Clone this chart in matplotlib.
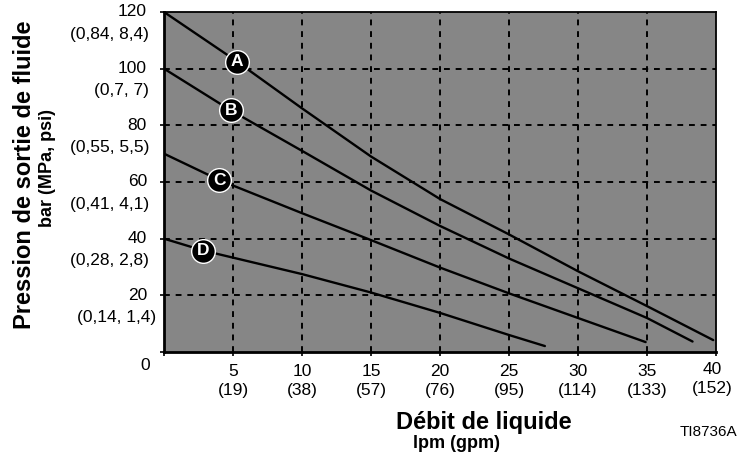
import matplotlib
matplotlib.use("Agg")
import matplotlib.pyplot as plt

plt.rcParams['font.family'] = ['Liberation Sans', 'DejaVu Sans']

# ---- data ----
x_ticks = [5, 10, 15, 20, 25, 30, 35, 40]
x_tick_labels = ["5", "10", "15", "20", "25", "30", "35", "40"]
x_tick_sub = ["(19)", "(38)", "(57)", "(76)", "(95)", "(114)", "(133)", "(152)"]
y_ticks = [20, 40, 60, 80, 100, 120]
y_tick_labels = ["20", "40", "60", "80", "100", "120"]
y_tick_sub = ["(0,14, 1,4)", "(0,28, 2,8)", "(0,41, 4,1)", "(0,55, 5,5)", "(0,7, 7)", "(0,84, 8,4)"]

curve_names = ["A", "B", "C", "D"]
a_x = [0, 5, 10, 15, 20, 25, 30, 35, 39.8]
a_y = [120, 103.5, 86, 69, 54, 41.5, 28.5, 16.2, 4.2]
b_x = [0, 4.8, 10, 15, 20, 25, 30, 35, 38.3]
b_y = [100, 85.4, 71, 57, 44.5, 33, 22.5, 12, 3.7]
c_x = [0, 4, 10, 15, 20, 25, 30, 34.9]
c_y = [70, 60.7, 49, 39.5, 29.8, 20.7, 12, 3.5]
d_x = [0, 2.85, 10, 15, 20, 25, 27.6]
d_y = [40, 35.8, 27.5, 21, 13.8, 6, 2.1]
curves_x = [a_x, b_x, c_x, d_x]
curves_y = [a_y, b_y, c_y, d_y]
marker_x = [5.3, 4.83, 4.0, 2.85]
marker_y = [102.4, 85.4, 60.7, 35.8]

# ---- figure ----
W, H = 747, 459
fig = plt.figure(figsize=(W / 100, H / 100), dpi=100)
L, R, T, B = 164, 716, 12, 352
ax = fig.add_axes([L / W, 1 - B / H, (R - L) / W, (B - T) / H])
ax.set_facecolor('#868686')
ax.set_xlim(0, 40)
ax.set_ylim(0, 120)

for xv in x_ticks[:-1]:
    ax.axvline(xv, color='black', lw=1.4, dashes=(3, 3), zorder=1)
for yv in y_ticks[:-1]:
    ax.axhline(yv, color='black', lw=1.4, dashes=(3, 3), zorder=1)

for cx, cy in zip(curves_x, curves_y):
    ax.plot(cx, cy, color='black', lw=1.7, zorder=3,
            solid_capstyle='round', solid_joinstyle='round')

ax.scatter(marker_x, marker_y, s=290, color='black', edgecolors='white',
           linewidths=1.0, zorder=4)
for name, mx, my in zip(curve_names, marker_x, marker_y):
    ax.text(mx, my, name, color='white', fontsize=12.5, fontweight='bold',
            ha='center', va='center', zorder=5)

for side in ['left', 'bottom']:
    ax.spines[side].set_linewidth(2.0)
for side in ['top', 'right']:
    ax.spines[side].set_linewidth(1.3)

ax.set_xticks([0] + x_ticks)
ax.set_yticks([0] + y_ticks)
ax.tick_params(length=3, width=1.2, direction='out', labelleft=False, labelbottom=False)

# y tick labels (two lines)
sub_dx = [-8, -15, -15, -15, -15, -15]
for yv, lab, sub, dx in zip(y_ticks, y_tick_labels, y_tick_sub, sub_dx):
    ax.annotate(lab, xy=(0, yv), xytext=(-17, 0), textcoords='offset pixels',
                ha='right', va='center', fontsize=12.5, annotation_clip=False)
    ax.annotate(sub, xy=(0, yv), xytext=(dx, -22), textcoords='offset pixels',
                ha='right', va='center', fontsize=12.5, annotation_clip=False)
ax.annotate("0", xy=(0, 0), xytext=(-19, -13), textcoords='offset pixels',
            ha='center', va='center', fontsize=12.5, annotation_clip=False)

# x tick labels (two lines)
for xv, lab, sub in zip(x_ticks, x_tick_labels, x_tick_sub):
    dx = -4 if xv == 40 else 0
    dy = 3 if xv == 40 else 0
    ax.annotate(lab, xy=(xv, 0), xytext=(dx, -20 + dy), textcoords='offset pixels',
                ha='center', va='center', fontsize=12.5, annotation_clip=False)
    ax.annotate(sub, xy=(xv, 0), xytext=(dx, -39 + dy), textcoords='offset pixels',
                ha='center', va='center', fontsize=12.5, annotation_clip=False)

# titles
fig.text(25 / W, 1 - 175 / H, "Pression de sortie de fluide", rotation=90,
         fontsize=17, fontweight='bold', ha='center', va='center')
fig.text(48 / W, 1 - 168 / H, "bar (MPa, psi)", rotation=90,
         fontsize=13, fontweight='bold', ha='center', va='center')
fig.text(484 / W, 1 - 422 / H, "Débit de liquide",
         fontsize=17, fontweight='bold', ha='center', va='center')
fig.text(457 / W, 1 - 443 / H, "lpm (gpm)",
         fontsize=13, fontweight='bold', ha='center', va='center')
fig.text(708 / W, 1 - 432 / H, "TI8736A", fontsize=11, ha='center', va='center')

fig.savefig("out.png", dpi=100)
